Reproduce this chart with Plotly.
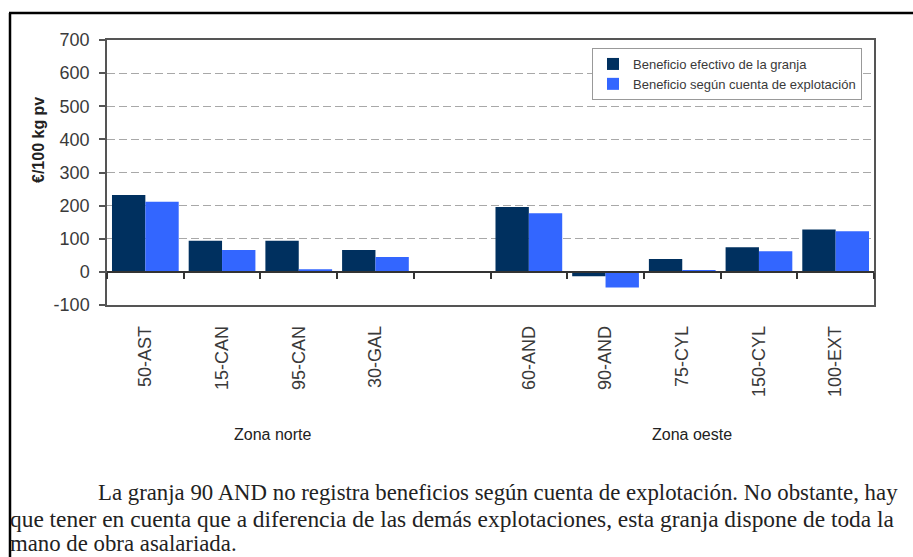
import plotly.graph_objects as go

# ---- data ----
categories = ["50-AST", "15-CAN", "95-CAN", "30-GAL", " ", "60-AND", "90-AND", "75-CYL", "150-CYL", "100-EXT"]
beneficio_efectivo = [232, 94, 94, 66, None, 196, -13, 39, 74, 128]
beneficio_cuenta = [212, 66, 8, 45, None, 177, -47, 5, 62, 123]
series_names = ["Beneficio efectivo de la granja", "Beneficio según cuenta de explotación"]
y_ticks = [-100, 0, 100, 200, 300, 400, 500, 600, 700]
y_tick_labels = ["-100", "0", "100", "200", "300", "400", "500", "600", "700"]
zone_labels = ["Zona norte", "Zona oeste"]
paragraph = [
    "La granja 90 AND no registra beneficios según cuenta de explotación. No obstante, hay",
    "que tener en cuenta que a diferencia de las demás explotaciones, esta granja dispone de toda la",
    "mano de obra asalariada.",
]

W, H = 913, 557
L, R, T, B = 107, 874, 40, 305  # plot area in pixels


def px(x):
    return (x - L) / (R - L)


def py(y):
    return (B - y) / (B - T)


DARK = "#00305f"
LIGHT = "#3366ff"
AXC = "#555555"
TXT = "#3a3a3a"

fig = go.Figure()
fig.add_trace(go.Bar(x=categories, y=beneficio_efectivo, name=series_names[0],
                     marker=dict(color=DARK, line=dict(width=0))))
fig.add_trace(go.Bar(x=categories, y=beneficio_cuenta, name=series_names[1],
                     marker=dict(color=LIGHT, line=dict(width=0))))
# invisible trace that carries the zero-level category axis (ticks between categories)
fig.add_trace(go.Scatter(x=categories, y=[None] * len(categories), xaxis="x2",
                         showlegend=False, hoverinfo="skip", mode="markers"))

zero_pos = (0 - y_ticks[0]) / (y_ticks[-1] - y_ticks[0])

fig.update_layout(
    width=W, height=H,
    margin=dict(l=L, r=W - R, t=T, b=H - B),
    paper_bgcolor="white", plot_bgcolor="white",
    barmode="group", bargap=0.13, bargroupgap=0,
    font=dict(family="Liberation Sans, Arial, sans-serif", color=TXT),
    xaxis=dict(
        type="category", categoryorder="array", categoryarray=categories,
        range=[-0.5, len(categories) - 0.5],
        showline=True, linecolor=AXC, linewidth=1.5, mirror=True,
        ticks="", tickangle=-90, tickfont=dict(size=18, color=TXT),
        ticklabelstandoff=12, showgrid=False, zeroline=False,
    ),
    xaxis2=dict(
        type="category", categoryorder="array", categoryarray=categories,
        range=[-0.5, len(categories) - 0.5],
        overlaying="x", anchor="free", position=zero_pos, side="bottom",
        showline=True, linecolor="#333333", linewidth=1.5,
        ticks="outside", tickson="boundaries", ticklen=6, tickwidth=1.5, tickcolor="#333333",
        showticklabels=False, showgrid=False, zeroline=False,
    ),
    yaxis=dict(
        range=[y_ticks[0], y_ticks[-1]], tickvals=y_ticks, ticktext=y_tick_labels,
        showline=True, linecolor=AXC, linewidth=1.5, mirror=True,
        ticks="outside", ticklen=6, tickcolor=AXC, tickwidth=1.5,
        tickfont=dict(size=18, color=TXT), ticklabelstandoff=6,
        showgrid=True, gridcolor="#a8a8a8", gridwidth=1, griddash="8px,4px",
        zeroline=False,
    ),
    legend=dict(
        x=px(862), y=py(48), xanchor="right", yanchor="top",
        bgcolor="white", bordercolor="#999999", borderwidth=1,
        font=dict(size=13, color=TXT), itemwidth=30, tracegroupgap=0,
    ),
    showlegend=True,
)

annotations = [
    dict(text="<b>€/100 kg pv</b>", x=px(38), y=py(140), xref="paper", yref="paper",
         xanchor="center", yanchor="middle",
         textangle=-90, showarrow=False, font=dict(size=16, color="#222222")),
    dict(text=zone_labels[0], x=px(272), y=py(435), xref="paper", yref="paper",
         xanchor="center", yanchor="middle",
         showarrow=False, font=dict(size=16, color="#222222")),
    dict(text=zone_labels[1], x=px(692), y=py(435), xref="paper", yref="paper",
         xanchor="center", yanchor="middle",
         showarrow=False, font=dict(size=16, color="#222222")),
]
para_pos = [(96, 493), (8, 519), (8, 543)]
para_size = [22.8, 23.4, 22.8]
for line, (xx, yy), sz in zip(paragraph, para_pos, para_size):
    annotations.append(dict(text=line, x=px(xx), y=py(yy), xref="paper", yref="paper",
                            xanchor="left", yanchor="middle", showarrow=False,
                            font=dict(family="Liberation Serif, Times New Roman, serif",
                                      size=sz, color="#222222")))
fig.update_layout(annotations=annotations)

# outer frame lines
fig.add_shape(type="line", xref="paper", yref="paper", x0=px(10), x1=px(10), y0=py(13), y1=py(H),
              line=dict(color="black", width=2.5))
fig.add_shape(type="line", xref="paper", yref="paper", x0=px(9), x1=px(W), y0=py(13), y1=py(13),
              line=dict(color="black", width=2.5))

fig.write_html("out.html", config={"displayModeBar": False},
               post_script="document.body.style.margin='0';document.body.style.overflow='hidden';")
